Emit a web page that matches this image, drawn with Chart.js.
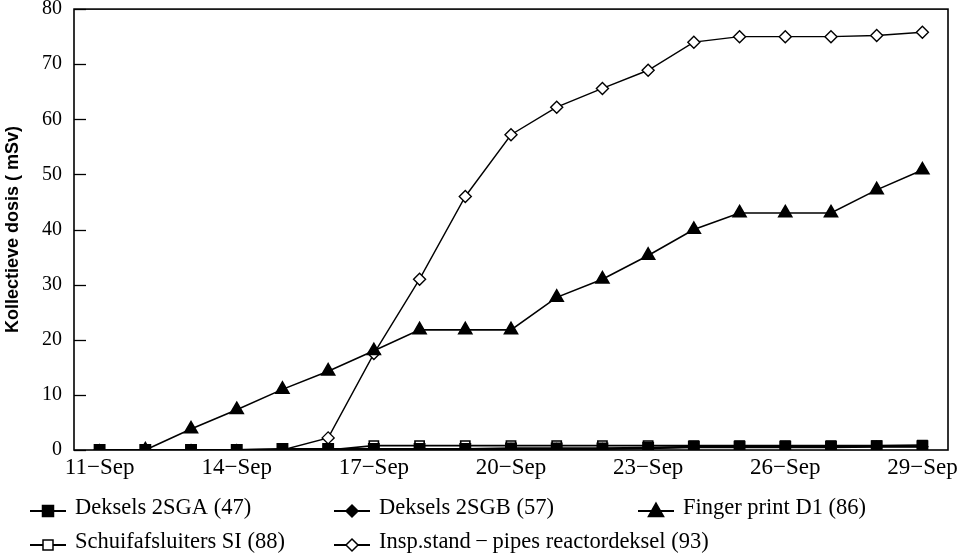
<!DOCTYPE html>
<html>
<head>
<meta charset="utf-8">
<script src="https://cdn.jsdelivr.net/npm/chart.js@4/dist/chart.umd.min.js"></script>
<style>
  html, body { margin: 0; padding: 0; background: #fff; }
  #wrap { width: 969px; height: 557px; position: relative; }
</style>
</head>
<body>
<div id="wrap"><canvas id="c" width="969" height="557"></canvas></div>
<script>
// Days of the outage, one sample per day
const days = ['11−Sep','12−Sep','13−Sep','14−Sep','15−Sep','16−Sep','17−Sep','18−Sep','19−Sep','20−Sep',
              '21−Sep','22−Sep','23−Sep','24−Sep','25−Sep','26−Sep','27−Sep','28−Sep','29−Sep'];
// Day indices that get an axis label
const labelledDays = [0, 3, 6, 9, 12, 15, 18];
const yTicks = [0, 10, 20, 30, 40, 50, 60, 70, 80];

// Cumulative collective dose per job (mSv)
const deksels2SGA   = [0, 0, 0, 0, 0.2, 0.2, 0.2, 0.2, 0.2, 0.3, 0.3, 0.3, 0.4, 0.6, 0.6, 0.6, 0.6, 0.7, 0.7];
const deksels2SGB   = [0, 0, 0, 0, 0.1, 0.1, 0.1, 0.1, 0.1, 0.2, 0.2, 0.2, 0.3, 0.5, 0.5, 0.5, 0.5, 0.6, 0.6];
const fingerPrintD1 = [null, 0, 3.8, 7.3, 11, 14.3, 18, 21.8, 21.8, 21.8, 27.7, 31, 35.3, 40, 43, 43, 43, 47.2, 50.8];
const schuifSI      = [0, 0, 0, 0, 0, 0, 0.8, 0.8, 0.8, 0.8, 0.8, 0.8, 0.8, 0.8, 0.8, 0.8, 0.8, 0.8, 0.9];
const inspStand     = [null, null, null, null, 0, 2.2, 17.5, 31, 46, 57.2, 62.2, 65.6, 68.9, 74, 75, 75, 75, 75.2, 75.8];

const seriesNames = ['Deksels 2SGA (47)', 'Deksels 2SGB (57)', 'Finger print D1 (86)',
                     'Schuifafsluiters SI (88)', 'Insp.stand\u2009\u2212\u2009pipes reactordeksel (93)'];

const toXY = arr => arr.map((v, i) => ({ x: i, y: v }));
const SERIF = "'Liberation Serif', 'DejaVu Serif', serif";

const datasets = [
  { label: seriesNames[0], data: toXY(deksels2SGA), pointStyle: 'rect', pointRadius: 7,
    backgroundColor: '#000', borderColor: '#000', borderWidth: 2 },
  { label: seriesNames[1], data: toXY(deksels2SGB), pointStyle: 'rectRot', pointRadius: 5,
    backgroundColor: '#000', borderColor: '#000', borderWidth: 2 },
  { label: seriesNames[2], data: toXY(fingerPrintD1), pointStyle: 'triangle', pointRadius: 7.5,
    backgroundColor: '#000', borderColor: '#000', borderWidth: 1.6 },
  { label: seriesNames[3], data: toXY(schuifSI), pointStyle: 'rect', pointRadius: 6.5,
    backgroundColor: '#fff', borderColor: '#000', borderWidth: 1.6 },
  { label: seriesNames[4], data: toXY(inspStand), pointStyle: 'rectRot', pointRadius: 6,
    backgroundColor: '#fff', borderColor: '#000', borderWidth: 1.4 }
];

// Legend grid: column x of the marker, row y
const legendCols = [48, 352, 656];
const legendRows = [511, 545];
const legendCells = [[0, 0], [1, 0], [2, 0], [0, 1], [1, 1]];

function drawMarker(ctx, style, fill, x, y, r) {
  ctx.save();
  ctx.fillStyle = fill;
  ctx.strokeStyle = '#000';
  ctx.lineWidth = 1.5;
  ctx.beginPath();
  if (style === 'rect') {
    ctx.rect(x - r, y - r, 2 * r, 2 * r);
  } else if (style === 'rectRot') {
    ctx.moveTo(x, y - r); ctx.lineTo(x + r, y); ctx.lineTo(x, y + r); ctx.lineTo(x - r, y); ctx.closePath();
  } else {
    ctx.moveTo(x, y - r); ctx.lineTo(x + r * 0.95, y + r * 0.7); ctx.lineTo(x - r * 0.95, y + r * 0.7); ctx.closePath();
  }
  ctx.fill();
  ctx.stroke();
  ctx.restore();
}

const framePlugin = {
  id: 'frame',
  afterDatasetsDraw(chart) {
    const { ctx, chartArea: a, scales: { y } } = chart;
    ctx.save();
    ctx.strokeStyle = '#000';
    ctx.lineWidth = 1.6;
    ctx.strokeRect(a.left, a.top, a.right - a.left, a.bottom - a.top);
    // inward tick marks on the value axis
    ctx.lineWidth = 1.3;
    yTicks.forEach(v => {
      const py = Math.round(y.getPixelForValue(v)) + 0.5;
      ctx.beginPath();
      ctx.moveTo(a.left, py);
      ctx.lineTo(a.left + 12, py);
      ctx.stroke();
    });
    ctx.restore();
  },
  afterDraw(chart) {
    const ctx = chart.ctx;
    ctx.save();
    ctx.font = "22.5px " + SERIF;
    ctx.fillStyle = '#000';
    ctx.textBaseline = 'alphabetic';
    datasets.forEach((ds, i) => {
      const [c, r] = legendCells[i];
      const mx = legendCols[c], my = legendRows[r];
      ctx.strokeStyle = '#000';
      ctx.lineWidth = 1.8;
      ctx.beginPath();
      ctx.moveTo(mx - 18, my);
      ctx.lineTo(mx + 18, my);
      ctx.stroke();
      const sizes = { rect: ds.backgroundColor === '#000' ? 5.5 : 5, rectRot: 6, triangle: 8 };
      drawMarker(ctx, ds.pointStyle, ds.backgroundColor, mx, my, sizes[ds.pointStyle]);
      ctx.fillText(ds.label, mx + 27, my + 3);
    });
    ctx.restore();
  }
};

new Chart(document.getElementById('c'), {
  type: 'line',
  data: { datasets },
  plugins: [framePlugin],
  options: {
    responsive: false,
    animation: false,
    layout: { padding: { left: 0, right: 21, top: 8, bottom: 0 } },
    plugins: { legend: { display: false }, tooltip: { enabled: false } },
    elements: { line: { tension: 0, borderWidth: 1.6, borderColor: '#000' } },
    scales: {
      x: {
        type: 'linear',
        min: -0.56,
        max: 18.56,
        afterBuildTicks: s => { s.ticks = labelledDays.map(v => ({ value: v })); },
        afterFit: s => { s.height = 107; s.paddingLeft = 0; s.paddingRight = 0; },
        grid: { display: false, drawTicks: false },
        border: { display: false },
        ticks: {
          color: '#000',
          padding: 4,
          maxRotation: 0,
          autoSkip: false,
          font: { family: SERIF, size: 23 },
          callback: v => days[v]
        }
      },
      y: {
        min: 0,
        max: 80,
        afterBuildTicks: s => { s.ticks = yTicks.map(v => ({ value: v })); },
        afterFit: s => { s.width = 74; s.paddingTop = 0; s.paddingBottom = 0; },
        grid: { display: false, drawTicks: false },
        border: { display: false },
        ticks: {
          color: '#000',
          padding: 12,
          font: { family: SERIF, size: 20 }
        },
        title: {
          display: true,
          text: 'Kollectieve dosis ( mSv)',
          color: '#000',
          padding: { top: 2, bottom: 0 },
          font: { family: "'Liberation Sans', Arial, sans-serif", size: 18, weight: 'bold' }
        }
      }
    }
  }
});
</script>
</body>
</html>
